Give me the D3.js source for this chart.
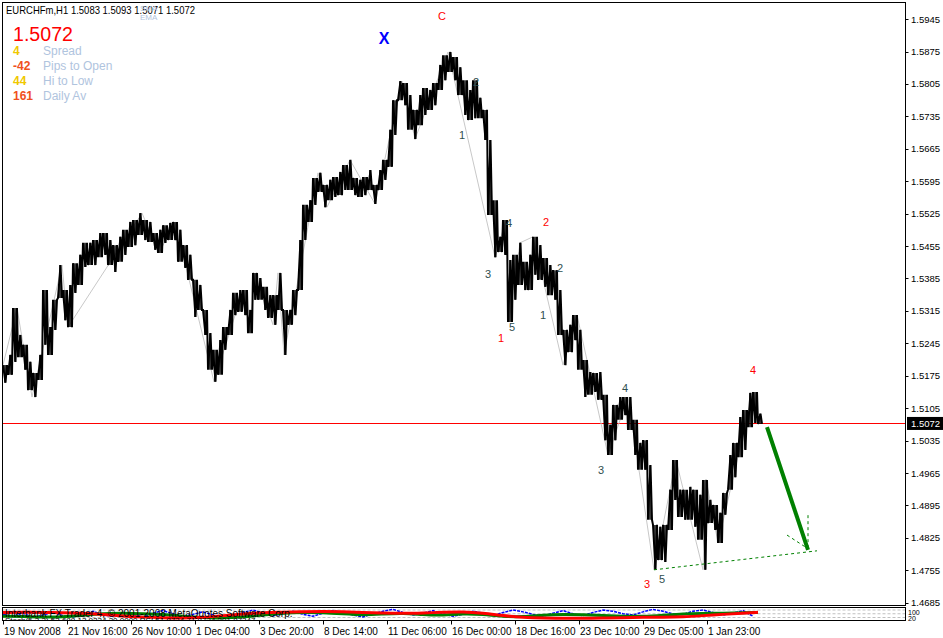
<!DOCTYPE html>
<html>
  <head>
    <meta charset="utf-8">
    <title>EURCHFm,H1</title>
    <script src="https://d3js.org/d3.v7.min.js"></script>
    <style>
      body { margin: 0; background: #fff; }
      text { font-family: "Liberation Sans", Arial, sans-serif; }
    </style>
  </head>
  <body>
    <svg id="chart" width="943" height="638"></svg>
    <script>
      // price data, one high/low pair per 5 hourly bars
      const bucketSize = 5;
      const highs = [1.5198,1.5220,1.5321,1.5263,1.5242,1.5205,1.5181,1.5220,1.5360,1.5280,
        1.5339,1.5414,1.5360,1.5371,1.5418,1.5436,1.5462,1.5462,1.5468,1.5483,
        1.5483,1.5468,1.5457,1.5475,1.5490,1.5507,1.5511,1.5526,1.5511,1.5507,
        1.5483,1.5490,1.5500,1.5505,1.5507,1.5490,1.5457,1.5436,1.5382,1.5371,
        1.5317,1.5267,1.5231,1.5252,1.5280,1.5317,1.5354,1.5360,1.5360,1.5317,
        1.5397,1.5386,1.5367,1.5349,1.5349,1.5397,1.5317,1.5317,1.5360,1.5468,
        1.5544,1.5554,1.5602,1.5613,1.5587,1.5598,1.5604,1.5615,1.5630,1.5641,
        1.5602,1.5598,1.5604,1.5619,1.5587,1.5619,1.5641,1.5706,1.5770,1.5811,
        1.5807,1.5781,1.5749,1.5781,1.5796,1.5792,1.5807,1.5846,1.5867,1.5874,
        1.5863,1.5841,1.5813,1.5792,1.5813,1.5775,1.5749,1.5684,1.5554,1.5475,
        1.5511,1.5425,1.5436,1.5462,1.5421,1.5436,1.5475,1.5457,1.5429,1.5414,
        1.5403,1.5360,1.5274,1.5285,1.5306,1.5274,1.5209,1.5183,1.5181,1.5183,
        1.5134,1.5069,1.5112,1.5129,1.5129,1.5129,1.5080,1.5030,1.5036,1.4982,
        1.4853,1.4849,1.4853,1.4929,1.4993,1.4929,1.4929,1.4935,1.4929,1.4918,
        1.4950,1.4907,1.4896,1.4879,1.4922,1.5004,1.5030,1.5086,1.5101,1.5138,
        1.5140,1.5093];
      const lows = [1.5160,1.5177,1.5205,1.5215,1.5188,1.5144,1.5129,1.5166,1.5242,1.5220,
        1.5274,1.5343,1.5295,1.5280,1.5354,1.5371,1.5410,1.5414,1.5414,1.5431,
        1.5436,1.5414,1.5399,1.5421,1.5436,1.5453,1.5457,1.5479,1.5468,1.5464,
        1.5447,1.5440,1.5462,1.5468,1.5468,1.5421,1.5408,1.5382,1.5302,1.5317,
        1.5263,1.5188,1.5162,1.5177,1.5231,1.5263,1.5306,1.5313,1.5306,1.5267,
        1.5339,1.5339,1.5317,1.5300,1.5285,1.5317,1.5220,1.5285,1.5306,1.5360,
        1.5468,1.5507,1.5544,1.5572,1.5539,1.5554,1.5561,1.5565,1.5576,1.5576,
        1.5565,1.5561,1.5565,1.5576,1.5546,1.5576,1.5598,1.5626,1.5695,1.5770,
        1.5759,1.5706,1.5686,1.5716,1.5738,1.5749,1.5759,1.5792,1.5813,1.5831,
        1.5813,1.5781,1.5738,1.5727,1.5731,1.5731,1.5684,1.5522,1.5431,1.5442,
        1.5436,1.5291,1.5339,1.5371,1.5360,1.5360,1.5393,1.5382,1.5367,1.5349,
        1.5339,1.5263,1.5198,1.5226,1.5252,1.5188,1.5129,1.5134,1.5140,1.5123,
        1.5036,1.5004,1.5036,1.5080,1.5090,1.5058,1.5004,1.4972,1.4972,1.4864,
        1.4756,1.4777,1.4773,1.4842,1.4907,1.4870,1.4864,1.4864,1.4849,1.4821,
        1.4756,1.4857,1.4842,1.4814,1.4875,1.4929,1.4956,1.4999,1.5015,1.5064,
        1.5073,1.5071];

      // zigzag swing points: [bar index, price]
      const zigzag = [[0,1.5198],[14,1.5321],[29,1.5129],[59,1.5414],[65,1.5280],[139,1.5526],
        [156,1.5440],[172,1.5507],[211,1.5162],[240,1.5360],[247,1.5267],[252,1.5397],
        [270,1.5285],[275,1.5397],[281,1.5220],[315,1.5613],[324,1.5539],[347,1.5641],
        [372,1.5546],[399,1.5811],[412,1.5686],[445,1.5874],[492,1.5431],[503,1.5511],
        [506,1.5291],[517,1.5462],[530,1.5475],[560,1.5198],[574,1.5306],[605,1.5004],
        [625,1.5129],[651,1.4756],[673,1.4993],[700,1.4756],[703,1.4952],[715,1.4814],
        [750,1.5140],[754,1.5080]];

      // wave labels: [text, bar index, price, colour]
      const waveLabels = [["C",439,1.5952,"red"],["2",473,1.5809,"slate"],["1",459,1.5695,"slate"],
        ["4",506,1.5505,"slate"],["2",543,1.5507,"red"],["3",485,1.5395,"slate"],
        ["2",557,1.5408,"slate"],["1",540,1.5306,"slate"],["5",509,1.5280,"slate"],
        ["1",498,1.5257,"red"],["4",622,1.5149,"slate"],["3",598,1.4972,"slate"],
        ["3",644,1.4726,"red"],["5",659,1.4737,"slate"],["4",750,1.5188,"red"]];
      const xLabel = ["X", 381, 1.5904];

      // projection lines: [bar1, price1, bar2, price2]
      const projection = [764, 1.5064, 805, 1.4799];
      const dashedLines = [[651,1.4756,814,1.4797],[805,1.4874,805,1.4803],[784,1.4831,804,1.4803]];

      const priceTicks = ["1.5945","1.5875","1.5805","1.5735","1.5665","1.5595","1.5525","1.5455",
        "1.5385","1.5315","1.5245","1.5175","1.5105","1.5035","1.4965","1.4895","1.4825","1.4755","1.4685"];
      const timeTicks = [0,64,128,192,256,320,384,448,512,576,640,704];
      const timeLabels = ["19 Nov 2008","21 Nov 16:00","26 Nov 10:00","1 Dec 04:00","3 Dec 20:00",
        "8 Dec 14:00","11 Dec 06:00","16 Dec 00:00","18 Dec 16:00","23 Dec 10:00","29 Dec 05:00","1 Jan 23:00"];
      const lastPrice = 1.5072;
      const titleText = "EURCHFm,H1  1.5083 1.5093 1.5071 1.5072";
      const infoValues = ["4","-42","44","161"];
      const infoNames = ["Spread","Pips to Open","Hi to Low","Daily Av"];
      const infoColors = ["#f0c800","#f05020","#f0c800","#f05020"];

      // indicator window (0-100), every 20 bars, last at 755
      const indStep = 20;
      const redInd = [60,62,60,58,55,45,32,22,18,16,20,35,50,58,62,66,68,66,60,55,
        52,56,62,66,55,35,20,15,14,14,15,18,22,22,25,35,45,55,62];
      const greenInd = [30,28,22,24,38,52,55,50,45,30,18,15,25,40,55,62,60,50,40,48,
        55,42,36,52,45,28,25,40,45,42,36,30,28,38,50,52,55,58,60];
      const blueStep = 10;
      const blueInd = [45,30,55,20,40,62,35,25,50,70,40,30,60,45,25,55,75,50,30,45,65,40,20,35,60,80,
        55,35,50,70,45,30,55,75,60,40,25,50,70,85,60,40,55,75,50,30,45,70,55,35,60,80,65,45,30,55,75,
        50,35,60,80,70,50,40,65,85,70,50,45,70,80,60,40,55,75,30];
      const indLevels = [80, 50, 20];

      const svg = d3.select("#chart");
      const frameLeft = 2.5, frameRight = 905.5, frameTop = 2.5, mainBottom = 605.5, indTop = 607.5, indBottom = 620.5;

      const x = d3.scaleLinear().domain([0, 900]).range([3, 903]);
      const y = d3.scaleLinear().domain([1.4685, 1.5945]).range([602.7, 19.1]);
      const yInd = d3.scaleLinear().domain([0, 100]).range([620, 607.5]);
      const bx = i => x(i * bucketSize + 2);

      svg.append("rect").attr("width", 943).attr("height", 638).attr("fill", "#fff");

      const defs = svg.append("defs");
      defs.append("clipPath").attr("id", "mainClip")
        .append("rect").attr("x", frameLeft).attr("y", frameTop)
        .attr("width", frameRight - frameLeft).attr("height", mainBottom - frameTop);
      defs.append("clipPath").attr("id", "indClip")
        .append("rect").attr("x", frameLeft).attr("y", indTop)
        .attr("width", frameRight - frameLeft).attr("height", indBottom - indTop);

      const main = svg.append("g").attr("clip-path", "url(#mainClip)");

      // current price line
      main.append("rect")
        .attr("x", frameLeft).attr("width", frameRight - frameLeft)
        .attr("y", Math.round(y(lastPrice))).attr("height", 1)
        .attr("fill", "#ff0000");

      // zigzag
      main.append("path")
        .datum(zigzag)
        .attr("d", d3.line().x(d => x(d[0])).y(d => y(d[1])))
        .attr("fill", "none")
        .attr("stroke", "#c8c8c8")
        .attr("stroke-width", 1);

      // bars: each bucket is swept high -> low -> high so the strand looks like dense hourly bars
      const sweep = [];
      highs.forEach(function(h, i) {
        const x0 = x(i * bucketSize), x1 = x(i * bucketSize + bucketSize);
        if (i % 2 == 0) {
          sweep.push([x0, y(h)], [x0 + 2.5, y(lows[i])], [x1 - 1, y(h)]);
        } else {
          sweep.push([x0, y(lows[i])], [x0 + 2.5, y(h)], [x1 - 1, y(lows[i])]);
        }
      });
      main.append("path")
        .datum(sweep)
        .attr("d", d3.line())
        .attr("fill", "none")
        .attr("stroke", "#000")
        .attr("stroke-width", 2)
        .attr("stroke-linejoin", "miter")
        .attr("stroke-miterlimit", 2);
      main.selectAll(".bar")
        .data(highs)
        .enter().append("line")
          .attr("class", "bar")
          .attr("x1", (d, i) => bx(i)).attr("x2", (d, i) => bx(i))
          .attr("y1", d => y(d))
          .attr("y2", (d, i) => y(lows[i]))
          .attr("stroke", "#000")
          .attr("stroke-width", 1.5);

      // projection
      main.append("line")
        .attr("x1", x(projection[0])).attr("y1", y(projection[1]))
        .attr("x2", x(projection[2])).attr("y2", y(projection[3]))
        .attr("stroke", "#008000").attr("stroke-width", 4);
      main.selectAll(".dash")
        .data(dashedLines)
        .enter().append("line")
          .attr("x1", d => x(d[0])).attr("y1", d => y(d[1]))
          .attr("x2", d => x(d[2])).attr("y2", d => y(d[3]))
          .attr("stroke", "#008000").attr("stroke-dasharray", "3,3");

      // wave labels
      main.selectAll(".wave")
        .data(waveLabels)
        .enter().append("text")
          .attr("x", d => x(d[1])).attr("y", d => y(d[2]))
          .attr("text-anchor", "middle").attr("dominant-baseline", "central")
          .attr("font-size", 11)
          .attr("fill", d => d[3] == "red" ? "#ff0000" : "#2f4f4f")
          .text(d => d[0]);
      main.append("text")
        .attr("x", x(xLabel[1])).attr("y", y(xLabel[2]))
        .attr("text-anchor", "middle").attr("dominant-baseline", "central")
        .attr("font-size", 16).attr("font-weight", "bold").attr("fill", "#0000ff")
        .text(xLabel[0]);

      // indicator window
      const ind = svg.append("g").attr("clip-path", "url(#indClip)");
      ind.selectAll(".lvl")
        .data(indLevels)
        .enter().append("line")
          .attr("x1", frameLeft).attr("x2", frameRight)
          .attr("y1", d => yInd(d)).attr("y2", d => yInd(d))
          .attr("stroke", "#c0c0c0").attr("stroke-dasharray", "3,2");
      const indX = step => (d, i) => x(Math.min(i * step, 755));
      ind.append("path").datum(blueInd)
        .attr("d", d3.line().x(indX(blueStep)).y(d => yInd(d)))
        .attr("fill", "none").attr("stroke", "#0000ff").attr("stroke-width", 1.5).attr("stroke-dasharray", "3,1");
      ind.append("path").datum(greenInd)
        .attr("d", d3.line().x(indX(indStep)).y(d => yInd(d)).curve(d3.curveBasis))
        .attr("fill", "none").attr("stroke", "#008000").attr("stroke-width", 3);
      ind.append("path").datum(redInd)
        .attr("d", d3.line().x(indX(indStep)).y(d => yInd(d)).curve(d3.curveBasis))
        .attr("fill", "none").attr("stroke", "#ff0000").attr("stroke-width", 3);
      ind.append("text").attr("x", 5).attr("y", 617).attr("font-size", 10).attr("fill", "#000")
        .text("Interbank FX Trader 4, © 2001-2008 MetaQuotes Software Corp.");
      ind.append("text").attr("x", 5).attr("y", 623).attr("font-size", 8).attr("fill", "#000")
        .text("Stoch(5,3,3) 53.688 13.9234 20.0000   RSI 51.8734 71.8734 201.87347");

      // frames
      svg.append("rect").attr("x", frameLeft).attr("y", frameTop)
        .attr("width", frameRight - frameLeft).attr("height", mainBottom - frameTop)
        .attr("fill", "none").attr("stroke", "#000");
      svg.append("rect").attr("x", frameLeft).attr("y", indTop)
        .attr("width", frameRight - frameLeft).attr("height", indBottom - indTop)
        .attr("fill", "none").attr("stroke", "#000");

      // price axis
      const pAxis = svg.append("g");
      pAxis.selectAll(".pt")
        .data(priceTicks)
        .enter().append("line")
          .attr("x1", frameRight).attr("x2", frameRight + 3)
          .attr("y1", d => Math.round(y(+d)) + 0.5).attr("y2", d => Math.round(y(+d)) + 0.5)
          .attr("stroke", "#000");
      pAxis.selectAll(".pl")
        .data(priceTicks)
        .enter().append("text")
          .attr("x", 911).attr("y", d => y(+d) + 3.5)
          .attr("font-size", 9.5).attr("fill", "#000")
          .text(d => d);
      pAxis.append("rect").attr("x", 907).attr("y", y(lastPrice) - 6.5)
        .attr("width", 36).attr("height", 13).attr("fill", "#000");
      pAxis.append("text").attr("x", 911).attr("y", y(lastPrice) + 3.5)
        .attr("font-size", 9.5).attr("fill", "#fff").text(lastPrice.toFixed(4));
      pAxis.append("text").attr("x", 908).attr("y", 615).attr("font-size", 7).text("100");
      pAxis.append("text").attr("x", 908).attr("y", 621).attr("font-size", 7).text("20");

      // time axis
      const tAxis = svg.append("g");
      tAxis.selectAll(".tt")
        .data(timeTicks)
        .enter().append("line")
          .attr("x1", d => Math.round(x(d)) + 0.5).attr("x2", d => Math.round(x(d)) + 0.5)
          .attr("y1", indBottom).attr("y2", indBottom + 4)
          .attr("stroke", "#000");
      tAxis.selectAll(".tl")
        .data(timeTicks)
        .enter().append("text")
          .attr("x", d => x(d) + 1).attr("y", 635)
          .attr("font-size", 10).attr("fill", "#000")
          .text((d, i) => timeLabels[i]);

      // header texts
      svg.append("text").attr("x", 6).attr("y", 14).attr("font-size", 10.5)
        .attr("textLength", 189).attr("lengthAdjust", "spacingAndGlyphs")
        .attr("fill", "#000").text(titleText);
      svg.append("text").attr("x", 140).attr("y", 11).attr("font-size", 8).attr("fill", "#b0c4de").text("SMA");
      svg.append("text").attr("x", 140).attr("y", 20).attr("font-size", 8).attr("fill", "#b0c4de").text("EMA");
      svg.append("text").attr("x", 13).attr("y", 41).attr("font-size", 20)
        .attr("textLength", 60).attr("lengthAdjust", "spacingAndGlyphs")
        .attr("fill", "#ff0000").text(lastPrice.toFixed(4));
      svg.selectAll(".iv")
        .data(infoValues)
        .enter().append("text")
          .attr("x", 13).attr("y", (d, i) => 55 + i * 15)
          .attr("font-size", 12).attr("font-weight", "bold")
          .attr("fill", (d, i) => infoColors[i])
          .text(d => d);
      svg.selectAll(".in")
        .data(infoNames)
        .enter().append("text")
          .attr("x", 43).attr("y", (d, i) => 55 + i * 15)
          .attr("font-size", 12).attr("fill", "#b0c4de")
          .text(d => d);
    </script>
  </body>
</html>
